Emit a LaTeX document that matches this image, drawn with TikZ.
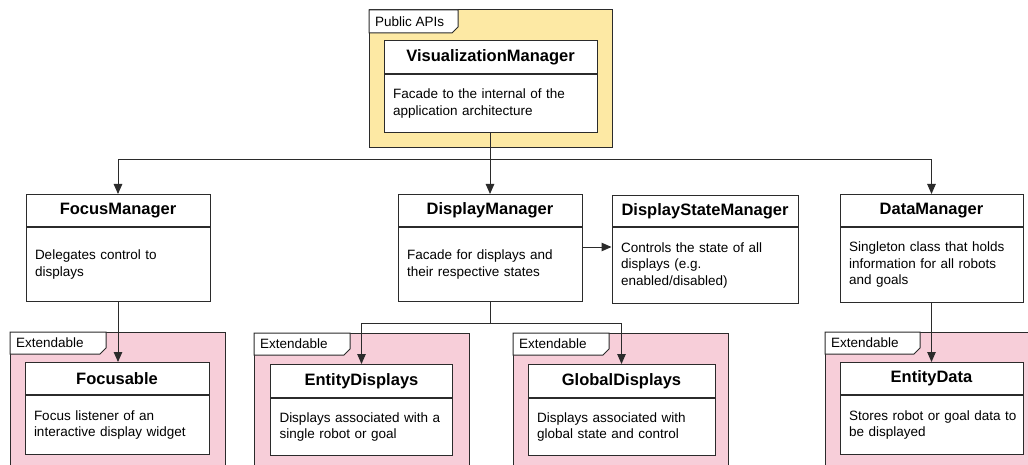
\documentclass[tikz,border=0pt]{standalone}
\usepackage{fontspec}
\setmainfont{Liberation Sans}
\usepackage{tikz}
\usetikzlibrary{positioning, arrows.meta}
\definecolor{apiYellow}{HTML}{FDE9A4}
\definecolor{extPink}{HTML}{F7CED9}
\definecolor{lineGray}{HTML}{2B2B2B}

\begin{document}
\begin{tikzpicture}[
    x=1pt, y=-1pt,
    ttl/.style={draw=lineGray, line width=1pt, fill=white, anchor=north, inner sep=0pt,
                font=\bfseries\fontsize{16.5}{19}\selectfont},
    desc/.style={draw=lineGray, line width=1pt, fill=white, align=left, inner xsep=9pt, inner ysep=0pt,
                 font=\fontsize{13.5}{16.5}\selectfont},
    pkg/.style={draw=lineGray, line width=1pt},
    tab/.style={anchor=west, inner xsep=6pt, inner ysep=0pt, font=\fontsize{13.5}{16}\selectfont},
    arr/.style={-{Triangle[length=10pt,width=8.5pt]}, line width=1pt, draw=lineGray},
    wire/.style={line width=1pt, draw=lineGray},
  ]
    \useasboundingbox (0,0) rectangle (1028,465);
    \clip (0,0) rectangle (1028,465);

    % packages
    \draw[pkg, fill=apiYellow] (369,10) rectangle (612,148);
    \draw[pkg, fill=white] (369,10) -- (458,10) -- (458,27) -- (452,33) -- (369,33) -- cycle;
    \node[tab] (pubTab) at (369,21.5) {Public APIs};

    \draw[pkg, fill=extPink] (10,332) rectangle (225,480);
    \draw[pkg, fill=white] (10,332) -- (106,332) -- (106,348) -- (100,354) -- (10,354) -- cycle;
    \node[tab] (extTabA) at (10,343) {Extendable};

    \draw[pkg, fill=extPink] (254,333) rectangle (469,480);
    \draw[pkg, fill=white] (254,333) -- (350,333) -- (350,349) -- (344,355) -- (254,355) -- cycle;
    \node[tab] (extTabB) at (254,344) {Extendable};

    \draw[pkg, fill=extPink] (513,333) rectangle (728,480);
    \draw[pkg, fill=white] (513,333) -- (609,333) -- (609,349) -- (603,355) -- (513,355) -- cycle;
    \node[tab] (extTabC) at (513,344) {Extendable};

    \draw[pkg, fill=extPink] (825,332) rectangle (1040,480);
    \draw[pkg, fill=white] (825,332) -- (920,332) -- (920,348) -- (914,354) -- (825,354) -- cycle;
    \node[tab] (extTabD) at (825,343) {Extendable};

    % classes
    \node[ttl, minimum width=213pt, minimum height=33pt] (vmT) at (490.5,40) {VisualizationManager};
    \node[desc, below=0pt of vmT, text width=195pt, minimum height=58pt] (vmB)
      {Facade to the internal of the\\application architecture};

    \node[ttl, minimum width=184pt, minimum height=32pt] (fmT) at (118,194) {FocusManager};
    \node[desc, below=0pt of fmT, text width=166pt, minimum height=74pt] (fmB)
      {Delegates control to\\displays};

    \node[ttl, minimum width=184pt, minimum height=32pt] (dmT) at (490,194) {DisplayManager};
    \node[desc, below=0pt of dmT, text width=166pt, minimum height=74pt] (dmB)
      {Facade for displays and\\their respective states};

    \node[ttl, minimum width=186pt, minimum height=31pt] (dsmT) at (705,195) {DisplayStateManager};
    \node[desc, below=0pt of dsmT, text width=168pt, minimum height=76pt] (dsmB)
      {Controls the state of all\\displays (e.g.\\enabled/disabled)};

    \node[ttl, minimum width=183pt, minimum height=32pt] (daT) at (931.5,194) {DataManager};
    \node[desc, below=0pt of daT, text width=165pt, minimum height=75pt] (daB)
      {Singleton class that holds\\information for all robots\\and goals};

    \node[ttl, minimum width=184pt, minimum height=32pt] (focT) at (117,362) {Focusable};
    \node[desc, below=0pt of focT, text width=166pt, minimum height=59pt] (focB)
      {Focus listener of an\\interactive display widget};

    \node[ttl, minimum width=182pt, minimum height=33pt] (edT) at (361.5,364) {EntityDisplays};
    \node[desc, below=0pt of edT, text width=164pt, minimum height=57pt] (edB)
      {Displays associated with a\\single robot or goal};

    \node[ttl, minimum width=187pt, minimum height=33pt] (gdT) at (621.5,364) {GlobalDisplays};
    \node[desc, below=0pt of gdT, text width=169pt, minimum height=57pt] (gdB)
      {Displays associated with\\global state and control};

    \node[ttl, minimum width=183pt, minimum height=32pt] (edataT) at (931.5,362) {EntityData};
    \node[desc, below=0pt of edataT, text width=171pt, inner xsep=6pt, minimum height=59pt] (edataB)
      {\hspace*{3pt}Stores robot or goal data to\\\hspace*{3pt}be displayed};

    % connectors
    \coordinate (topSplit) at (vmB.south |- 0,160);
    \draw[wire] (vmB.south) -- (topSplit);
    \draw[arr] (topSplit) -| (fmT);
    \draw[arr] (topSplit) -- (topSplit -| dmT.north) -- (dmT.north);
    \draw[arr] (topSplit) -| (daT);

    \draw[arr] (dmB.east |- 0,247) -- (dsmB.west |- 0,247);

    \coordinate (dispSplit) at (dmB.south |- 0,323);
    \draw[wire] (dmB.south) -- (dispSplit);
    \draw[arr] (dispSplit) -| (edT);
    \draw[arr] (dispSplit) -| (gdT);

    \draw[arr] (fmB.south) -- (fmB.south |- focT.north);
    \draw[arr] (daB.south) -- (daB.south |- edataT.north);
  \end{tikzpicture}
\end{document}
